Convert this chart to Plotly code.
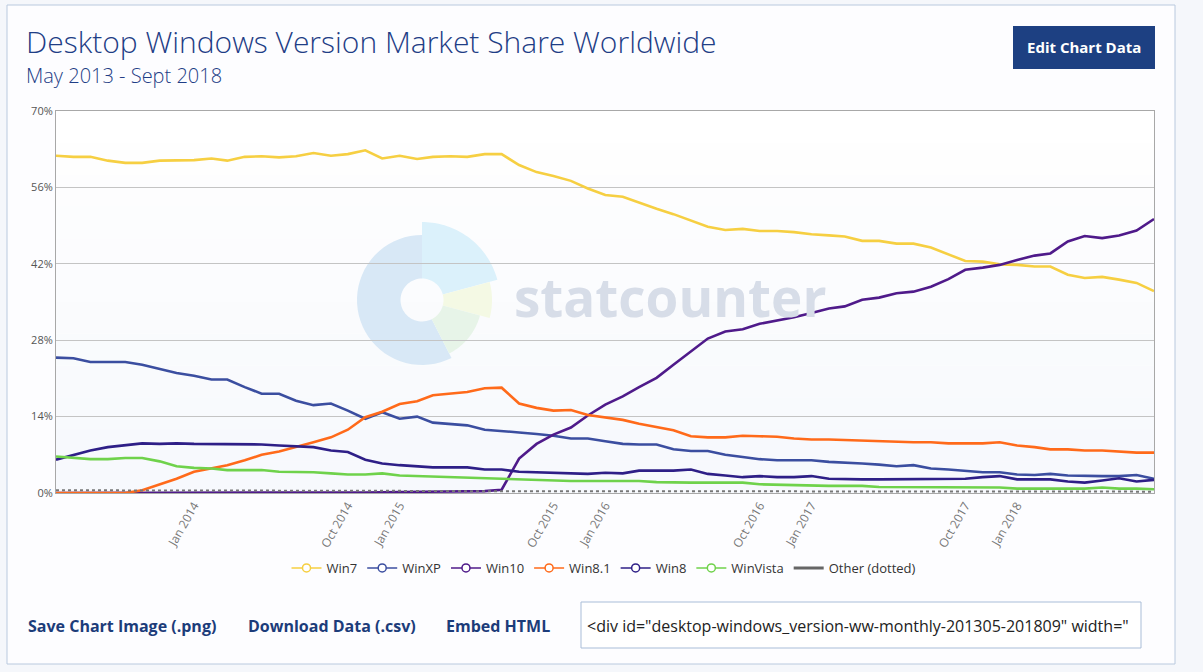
import math
import pandas as pd
import plotly.graph_objects as go

# months May 2013 .. Sept 2018
months = pd.date_range("2013-05-01", "2018-09-01", freq="MS")

win7 = [61.8, 61.6, 61.6, 60.9, 60.5, 60.5, 60.9, 61.0, 61.0, 61.3, 60.9, 61.6, 61.7, 61.5, 61.7, 62.3, 61.8, 62.1, 62.8, 61.3, 61.8,
        61.2, 61.6, 61.7, 61.6, 62.1, 62.1, 60.1, 58.8, 58.1, 57.2, 55.8, 54.6, 54.3, 53.2, 52.1, 51.1, 49.9, 48.8, 48.2, 48.4, 48.0,
        48.0, 47.8, 47.4, 47.2, 47.0, 46.2, 46.2, 45.7, 45.7, 45.0, 43.8, 42.5, 42.4, 41.9, 41.8, 41.5, 41.5, 40.0, 39.4, 39.6, 39.1, 38.5, 37.0]
winxp = [24.8, 24.7, 24.0, 24.0, 24.0, 23.5, 22.8, 22.0, 21.5, 20.8, 20.8, 19.4, 18.2, 18.2, 16.9, 16.1, 16.4, 15.1, 13.6, 14.8, 13.6,
         14.0, 12.9, 12.6, 12.4, 11.6, 11.4, 11.1, 10.8, 10.5, 10.0, 10.0, 9.5, 9.0, 8.9, 8.9, 8.0, 7.7, 7.7, 7.0, 6.6, 6.2,
         6.0, 6.0, 6.0, 5.7, 5.6, 5.4, 5.2, 4.9, 5.1, 4.5, 4.3, 4.0, 3.8, 3.8, 3.4, 3.3, 3.5, 3.2, 3.1, 3.1, 3.1, 3.3, 2.6]
win10 = [0, 0, 0, 0, 0, 0, 0, 0, 0, 0, 0, 0, 0, 0, 0, 0, 0,
         0.05, 0.1, 0.15, 0.2, 0.2, 0.25, 0.25, 0.3, 0.35, 0.6,
         6.3, 9.0, 10.7, 12.0, 14.2, 16.2, 17.7, 19.4, 21.1, 23.5, 25.9, 28.3, 29.6, 30.0, 31.0,
         31.6, 32.2, 33.0, 33.8, 34.2, 35.4, 35.8, 36.6, 36.9, 37.8, 39.2, 40.9, 41.3, 41.8, 42.7, 43.5, 43.9, 46.1, 47.1, 46.7, 47.2, 48.1, 50.2]
win81 = [0, 0, 0, 0, 0, 0.5, 1.5, 2.6, 3.9, 4.6, 5.1, 6.0, 7.0, 7.6, 8.4, 9.3, 10.2, 11.6, 13.9, 14.9, 16.3,
         16.8, 17.9, 18.2, 18.5, 19.2, 19.3, 16.4, 15.6, 15.1, 15.2, 14.3, 13.8, 13.4, 12.7, 12.1, 11.5, 10.4, 10.2, 10.2, 10.5, 10.4,
         10.3, 10.0, 9.8, 9.8, 9.7, 9.7, 9.5, 9.5, 9.3, 9.3, 9.1, 9.1, 9.1, 9.3, 8.7, 8.4, 8.0, 8.0, 7.8, 7.8, 7.6, 7.4, 7.4]
win8 = [6.1, 7.0, 7.8, 8.4, 8.7, 9.1, 9.0, 9.1, 9.0, 9.0, 9.0, 9.0, 8.9, 8.7, 8.6, 8.4, 7.8, 7.5, 6.1, 5.4, 5.1,
        4.9, 4.7, 4.7, 4.7, 4.3, 4.3, 3.9, 3.8, 3.7, 3.5, 3.5, 3.7, 3.6, 4.1, 4.1, 4.1, 4.3, 3.5, 3.2, 2.9, 3.1,
        2.9, 2.9, 3.1, 2.6, 2.5, 2.5, 2.5, 2.5, 2.5, 2.6, 2.6, 2.6, 2.9, 3.1, 2.5, 2.5, 2.5, 2.1, 1.9, 2.3, 2.7, 2.1, 2.4]
winvista = [6.7, 6.5, 6.2, 6.2, 6.4, 6.4, 5.8, 4.9, 4.6, 4.5, 4.2, 4.2, 4.2, 3.9, 3.9, 3.8, 3.6, 3.4, 3.4, 3.6, 3.2,
            3.1, 2.9, 2.8, 2.7, 2.6, 2.5, 2.4, 2.4, 2.3, 2.2, 2.2, 2.2, 2.2, 2.2, 2.0, 1.9, 1.9, 1.9, 1.9, 1.9, 1.6,
            1.5, 1.5, 1.3, 1.3, 1.3, 1.3, 1.1, 1.1, 1.1, 1.0, 1.0, 1.0, 1.0, 1.0, 0.8, 0.8, 0.8, 0.8, 0.8, 1.0, 0.8, 0.8, 0.7]
other = [0.5] * 11 + [0.45] * 5 + [0.4] * 5 + [0.35] * 5 + [0.3] * 15 + [0.25] * 24

series = [
    ("Win7", win7, "#f6cf42"),
    ("WinXP", winxp, "#3b4ea0"),
    ("Win10", win10, "#4f1a8a"),
    ("Win8.1", win81, "#ff6a1a"),
    ("Win8", win8, "#2e1f87"),
    ("WinVista", winvista, "#6fd24b"),
]

tick_dates = ["2014-01-01", "2014-10-01", "2015-01-01", "2015-10-01", "2016-01-01",
              "2016-10-01", "2017-01-01", "2017-10-01", "2018-01-01"]
tick_text = ["Jan 2014", "Oct 2014", "Jan 2015", "Oct 2015", "Jan 2016",
             "Oct 2016", "Jan 2017", "Oct 2017", "Jan 2018"]
y_ticks = [0, 14, 28, 42, 56, 70]
y_text = ["0%", "14%", "28%", "42%", "56%", "70%"]

W, H = 1203, 672
ML, MR, MT, MB = 56, 49, 111, 179
PW, PH = W - ML - MR, H - MT - MB


def fx(px):
    return (px - ML) / PW


def fy(py):
    return (H - MB - py) / PH


def sector(cx, cy, r0, r1, a0, a1, n=40):
    # annular sector in pixels -> svg path in paper coords
    pts = []
    for k in range(n + 1):
        a = math.radians(a0 + (a1 - a0) * k / n)
        pts.append((cx + r1 * math.cos(a), cy - r1 * math.sin(a)))
    for k in range(n + 1):
        a = math.radians(a1 - (a1 - a0) * k / n)
        pts.append((cx + r0 * math.cos(a), cy - r0 * math.sin(a)))
    return "M " + " L ".join(f"{fx(x):.5f},{fy(y):.5f}" for x, y in pts) + " Z"


fig = go.Figure()

for name, vals, col in series:
    fig.add_trace(go.Scatter(x=months, y=vals, mode="lines", name=name,
                             line=dict(color=col, width=2.6), showlegend=False))
fig.add_trace(go.Scatter(x=months, y=other, mode="lines", name="Other (dotted)",
                         line=dict(color="#777777", width=2, dash="dot"), showlegend=False))

# legend entries
for name, vals, col in series:
    fig.add_trace(go.Scatter(x=[None], y=[None], mode="lines+markers", name=name,
                             line=dict(color=col, width=1.5),
                             marker=dict(symbol="circle", size=8, color="white",
                                         line=dict(color=col, width=1.5))))
fig.add_trace(go.Scatter(x=[None], y=[None], mode="lines", name="Other (dotted)",
                         line=dict(color="#666666", width=3)))

shapes = []
# card
shapes.append(dict(type="rect", xref="paper", yref="paper", layer="below",
                   x0=fx(7), x1=fx(1175), y0=fy(664), y1=fy(5),
                   fillcolor="#fdfdff", line=dict(color="#b9c9de", width=1)))
# plot background gradient
nb = 12
for k in range(nb):
    t = k / (nb - 1)
    c = "rgb(%d,%d,%d)" % (255 - 8 * t, 255 - 6 * t, 255 - 2 * t)
    shapes.append(dict(type="rect", xref="paper", yref="paper", layer="below",
                       x0=0, x1=1, y0=1 - (k + 1) / nb, y1=1 - k / nb,
                       fillcolor=c, line=dict(width=0)))
# watermark logo
cx, cy = 422, 300
shapes.append(dict(type="path", xref="paper", yref="paper", layer="below",
                   path=sector(cx, cy, 21.5, 65, 90, 297), fillcolor="#d8e8f6", line=dict(width=0)))
shapes.append(dict(type="path", xref="paper", yref="paper", layer="below",
                   path=sector(cx, cy, 21.5, 78, 15, 90), fillcolor="#dbf1fb", line=dict(width=0)))
shapes.append(dict(type="path", xref="paper", yref="paper", layer="below",
                   path=sector(cx, cy, 21.5, 70, -15, 15), fillcolor="#f4f9e4", line=dict(width=0)))
shapes.append(dict(type="path", xref="paper", yref="paper", layer="below",
                   path=sector(cx, cy, 21.5, 60, -63, -15), fillcolor="#e7f4e8", line=dict(width=0)))
# button
shapes.append(dict(type="rect", xref="paper", yref="paper",
                   x0=fx(1013), x1=fx(1155), y0=fy(69), y1=fy(26),
                   fillcolor="#1d4082", line=dict(width=0)))
# embed input box
shapes.append(dict(type="rect", xref="paper", yref="paper",
                   x0=fx(581), x1=fx(1141), y0=fy(648), y1=fy(602),
                   fillcolor="white", line=dict(color="#a9bdd8", width=1)))

navy = "#1f3e86"
link = "#1c3c7a"
ann = [
    dict(text="Desktop Windows Version Market Share Worldwide", x=fx(25), y=fy(63.5),
         xanchor="left", yanchor="bottom", borderpad=0, font=dict(size=30, color=navy, weight=300)),
    dict(text="May 2013 - Sept 2018", x=fx(25), y=fy(61),
         xanchor="left", yanchor="top", borderpad=0, font=dict(size=20, color=navy, weight=300)),
    dict(text="<b>Edit Chart Data</b>", x=fx(1084), y=fy(47),
         xanchor="center", yanchor="middle", font=dict(size=15, color="white")),
    dict(text="statcounter", x=fx(512), y=fy(296),
         xanchor="left", yanchor="middle", font=dict(size=53, color="#d7dde8", weight=700)),
    dict(text="<b>Save Chart Image (.png)</b>", x=fx(26), y=fy(626),
         xanchor="left", yanchor="middle", font=dict(size=16, color=link)),
    dict(text="<b>Download Data (.csv)</b>", x=fx(246), y=fy(626),
         xanchor="left", yanchor="middle", font=dict(size=16, color=link)),
    dict(text="<b>Embed HTML</b>", x=fx(444), y=fy(626),
         xanchor="left", yanchor="middle", font=dict(size=16, color=link)),
    dict(text='&lt;div id="desktop-windows_version-ww-monthly-201305-201809" width="', x=fx(585), y=fy(626),
         xanchor="left", yanchor="middle", font=dict(size=16, color="#222222")),
]
for a in ann:
    a.update(xref="paper", yref="paper", showarrow=False)

fig.update_layout(
    width=W, height=H,
    margin=dict(l=ML, r=MR, t=MT, b=MB),
    paper_bgcolor="#f5f7fb",
    plot_bgcolor="rgba(0,0,0,0)",
    font=dict(family="Open Sans", color="#555555"),
    shapes=shapes,
    annotations=ann,
    legend=dict(orientation="h", x=fx(604), xanchor="center", y=fy(568), yanchor="middle",
                font=dict(size=13, color="#333333"), bgcolor="rgba(0,0,0,0)",
                itemwidth=30, tracegroupgap=0),
    xaxis=dict(range=[months[0], months[-1]], tickvals=tick_dates, ticktext=tick_text,
               tickangle=-60, tickfont=dict(size=12, color="#777777"), showgrid=False,
               showline=True, linecolor="#a8a8a8", mirror=True, zeroline=False),
    yaxis=dict(range=[0, 70], tickvals=y_ticks, ticktext=y_text,
               tickfont=dict(size=11, color="#555555"), gridcolor="#c4c4c4",
               showline=True, linecolor="#a8a8a8", mirror=True, zeroline=False, fixedrange=True),
)

fig.write_html("out.html", config={"displayModeBar": False},
               post_script="document.body.style.margin='0px';")
